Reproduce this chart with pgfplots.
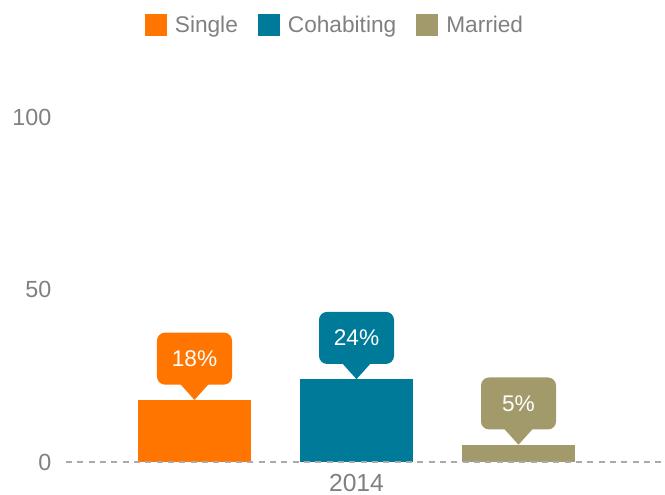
\documentclass[border=0pt]{standalone}
\usepackage{pgfplots}
\pgfplotsset{compat=1.18}
\usepackage{fontspec}
\setmainfont{Liberation Sans}
\definecolor{cSingle}{RGB}{255,117,0}
\definecolor{cCohab}{RGB}{0,122,153}
\definecolor{cMarried}{RGB}{163,154,108}
\definecolor{cGray}{RGB}{128,128,128}
\definecolor{cDash}{RGB}{170,170,170}
\tikzset{callout/.style={fill=#1, rounded corners=6pt,
  append after command={\pgfextra{\let\mn\tikzlastnode
    \fill[#1, sharp corners] ([xshift=-11pt,yshift=1pt]\mn.south) -- ([xshift=11pt,yshift=1pt]\mn.south) -- ([yshift=-11.25pt]\mn.south) -- cycle;}}}}
\begin{document}
\begin{tikzpicture}
\path[use as bounding box] (0,0) rectangle (498.75pt,371.25pt);
\begin{axis}[
  at={(49.5pt,24.75pt)}, anchor=south west,
  scale only axis, width=449.25pt, height=258.75pt,
  xmin=0.2068, xmax=3.9043, ymin=0, ymax=100,
  clip=false,
  axis line style={draw=none},
  major tick length=0pt, tick style={draw=none},
  xtick={2}, xticklabels={2014},
  ytick={0,50,100},
  /pgf/number format/assume math mode=true,
  tick label style={text=cGray},
  yticklabel style={xshift=-7.5pt, font=\fontsize{17.5}{20}\selectfont},
  xticklabel style={yshift=-5.5pt, font=\fontsize{18.5}{21}\selectfont},
  ybar, bar width=84.75pt, bar shift=0pt,
  nodes near coords={\pgfmathprintnumber{\pgfplotspointmeta}\%},
  every node near coord/.append style={
    text=white,
    font=\fontsize{17}{20}\selectfont,
    minimum width=56.25pt, minimum height=39pt, inner sep=0pt,
    yshift=11.25pt},
  legend columns=3,
  legend style={draw=none, fill=none,
    at={(0.4474,1.2652)}, anchor=center,
    font=\fontsize{17}{20}\selectfont, text=cGray,
    nodes={inner sep=0pt},
    /tikz/every odd column/.append style={column sep=6pt},
    /tikz/every even column/.append style={column sep=15pt}},
  legend image code/.code={\fill[#1] (0pt,-8.25pt) rectangle (16.5pt,8.25pt);},
]
\addplot[fill=cSingle, draw=none, every node near coord/.append style={callout=cSingle}] coordinates {(1,18)};
\addlegendentry{Single}
\addplot[fill=cCohab, draw=none, every node near coord/.append style={callout=cCohab}] coordinates {(2,24)};
\addlegendentry{Cohabiting}
\addplot[fill=cMarried, draw=none, every node near coord/.append style={callout=cMarried}] coordinates {(3,5)};
\addlegendentry{Married}
\addplot[sharp plot, draw=cDash, line width=1.5pt, dash pattern=on 4.5pt off 4pt, nodes near coords={}, forget plot] coordinates {(0.2068,0) (3.9043,0)};
\end{axis}
\end{tikzpicture}
\end{document}
